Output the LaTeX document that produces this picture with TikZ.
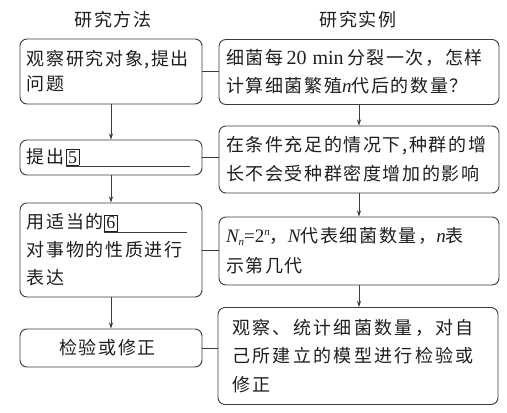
\documentclass[tikz,border=0pt]{standalone}
\usepackage{fontspec}
\setmainfont{Liberation Serif}
\newfontfamily\lat{Liberation Serif}
\newfontfamily\cjk[LetterSpace=9]{Noto Sans CJK SC}
\newfontfamily\cjkwide[LetterSpace=13]{Noto Sans CJK SC}
\usetikzlibrary{arrows.meta}
\definecolor{linec}{HTML}{3C3C3C}
\definecolor{txtc}{HTML}{1E1E1E}
\newcommand\blankfill[2]{\makebox[0pt][l]{\textcolor{linec}{\rule[-4pt]{#2}{0.7pt}}}{\fboxsep=1.8pt\fboxrule=0.6pt\fbox{\lat\fontsize{18}{18}\selectfont #1}}}
\newcommand\itl[1]{{\lat\itshape\fontsize{19}{19}\selectfont #1}}
\begin{document}
\begin{tikzpicture}[x=1pt,y=-1pt,
  box/.style={draw=linec, line width=0.95pt, rounded corners=7pt, inner ysep=0pt, text=txtc, align=left, font=\cjk\fontsize{18}{27}\selectfont},
  lbox/.style={box, text width=168pt, inner xsep=7pt},
  rbox/.style={box, text width=266pt, inner xsep=7pt},
  head/.style={text=txtc, font=\cjk\fontsize{18}{20}\selectfont, inner sep=0pt},
  arr/.style={draw=linec, line width=0.85pt, -{Stealth[length=6pt,width=4pt]}},
  link/.style={draw=linec, line width=0.85pt}]
\useasboundingbox (0,0) rectangle (507,413);
\fill[white] (0,0) rectangle (507,413);
\node[head] (h1) at (113,20) {研究方法};
\node[head] (h2) at (358,20) {研究实例};
% left column
\node[lbox, minimum height=65pt, font=\cjk\fontsize{18}{25}\selectfont] (L1) at (111,71.5) {观察研究对象,提出\\问题};
\node[lbox, minimum height=35pt] (L2) at (111,157.5) {提出\kern1pt\blankfill{5}{124pt}};
\node[lbox, minimum height=94pt, font=\cjk\fontsize{18}{28}\selectfont] (L3) at (111,250) {用适当的\blankfill{6}{83pt}\\对事物的性质进行\\表达};
\node[lbox, minimum height=38pt, align=center] (L4) at (111,348) {检验或修正\hspace*{7pt}};
% right column
\node[rbox, minimum height=65pt, font=\cjk\fontsize{18}{28}\selectfont] (R1) at (359,72) {细菌每{\lat\fontsize{20}{20}\selectfont\,20 min\,}分裂一次，怎样\\计算细菌繁殖\itl{n}代后的数量？};
\node[rbox, minimum height=67pt, font=\cjk\fontsize{18}{29}\selectfont] (R2) at (359,159.5) {在条件充足的情况下,种群的增\\长不会受种群密度增加的影响};
\node[rbox, minimum height=68pt, font=\cjk\fontsize{18}{30}\selectfont] (R3) at (359,251) {\itl{N}\raisebox{-3pt}{\itl{\fontsize{11}{11}\selectfont n}}{\lat\fontsize{19}{19}\selectfont =2}\raisebox{7pt}{\itl{\fontsize{11}{11}\selectfont n}}，\itl{N}代表细菌数量，\itl{n}表\\示第几代};
\node[box, text width=252pt, inner xsep=14pt, minimum height=97pt, font=\cjkwide\fontsize{18}{28.5}\selectfont] (R4) at (358,356) {观察、统计细菌数量，对自\\己所建立的模型进行检验或\\修正};
% arrows
\draw[arr] (L1) -- (L2);
\draw[arr] (L2) -- (L3);
\draw[arr] (L3) -- (L4);
\draw[arr] (R1) -- (R2);
\draw[arr] (R2) -- (R3);
\draw[arr] (R3) -- (R3 |- R4.north);
% links
\draw[link] (L1.east) -- (L1.east -| R1.west);
\draw[link] (L2.east) -- (L2.east -| R2.west);
\draw[link] (L3.east) -- (L3.east -| R3.west);
\draw[link] (L4.east) -- (L4.east -| R4.west);
\end{tikzpicture}
\end{document}
